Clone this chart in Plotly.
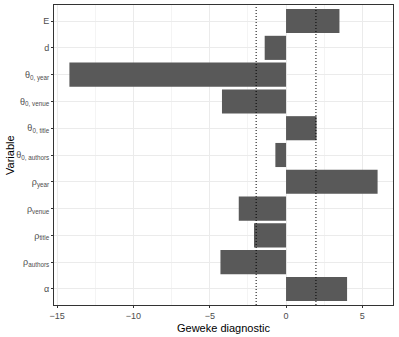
import plotly.graph_objects as go

# bottom to top, as plotted
variables = ["α", "ρ<sub>authors</sub>", "ρ<sub>title</sub>", "ρ<sub>venue</sub>", "ρ<sub>year</sub>",
             "θ<sub>0, authors</sub>", "θ<sub>0, title</sub>", "θ<sub>0, venue</sub>", "θ<sub>0, year</sub>",
             "d", "E"]
geweke = [4.0, -4.3, -2.1, -3.1, 6.0, -0.7, 2.0, -4.2, -14.2, -1.4, 3.5]
x_ticks = [-15, -10, -5, 0, 5]
crit = [-1.96, 1.96]

fig = go.Figure()
fig.add_bar(x=geweke, y=variables, orientation="h", width=0.9,
            marker=dict(color="#595959", line=dict(width=0)))

for c in crit:
    fig.add_vline(x=c, line=dict(color="black", width=1, dash="1px,2px"))

fig.update_layout(
    width=399, height=337,
    margin=dict(l=54, r=6, t=5, b=32, autoexpand=False),
    plot_bgcolor="white", paper_bgcolor="white",
    font=dict(family="Liberation Sans, Arial", color="#4D4D4D"),
    showlegend=False,
)
fig.update_xaxes(
    range=[-15.21, 7.01], tickvals=x_ticks, ticktext=["−15", "−10", "−5", "0", "5"],
    tickfont=dict(size=9, color="#4D4D4D"), automargin=False,
    ticks="outside", ticklen=2, tickcolor="#333333",
    showgrid=True, gridcolor="#EBEBEB", gridwidth=1,
    minor=dict(dtick=2.5, tick0=0, showgrid=True, gridcolor="#F4F4F4", gridwidth=0.5),
    zeroline=False, showline=True, linecolor="#333333", linewidth=1, mirror=True,
)
fig.update_yaxes(
    range=[-0.6, 10.6], categoryorder="array", categoryarray=variables,
    tickfont=dict(size=9, color="#4D4D4D"), automargin=False,
    ticks="outside", ticklen=2, tickcolor="#333333",
    showgrid=True, gridcolor="#EBEBEB", gridwidth=1,
    zeroline=False, showline=True, linecolor="#333333", linewidth=1, mirror=True,
)
fig.add_annotation(text="Geweke diagnostic", xref="paper", yref="paper", x=0.5, y=-0.076,
                   xanchor="center", yanchor="middle", showarrow=False,
                   font=dict(size=11, color="black"))
fig.add_annotation(text="Variable", xref="paper", yref="paper", x=-0.13, y=0.5,
                   textangle=-90, xanchor="center", yanchor="middle", showarrow=False,
                   font=dict(size=11, color="black"))

fig.write_html("out.html", config={"displayModeBar": False},
               post_script="document.body.style.margin='0';")
